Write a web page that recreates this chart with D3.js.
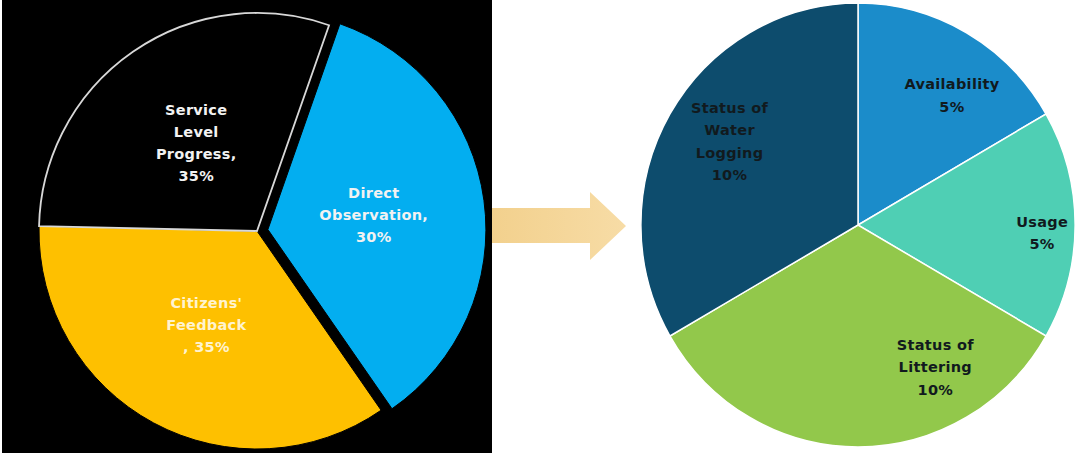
<!DOCTYPE html>
<html>
<head>
<meta charset="utf-8">
<script src="https://cdn.jsdelivr.net/npm/d3@7"></script>
<style>
  body { margin: 0; background: #fff; }
  svg { display: block; }
  text { font-family: "DejaVu Sans", sans-serif; font-weight: bold; letter-spacing: 0.3px; }
</style>
</head>
<body>
<svg id="chart" width="1075" height="456"></svg>
<script>
// left pie: weighting of sources (slice sizes as drawn, label text as printed)
const sourceNames = ["Service Level Progress", "Direct Observation", "Citizens' Feedback"];
const sourceShare = [30, 35, 35];
const sourceLabels = [["Service", "Level", "Progress,", "35%"], ["Direct", "Observation,", "30%"], ["Citizens'", "Feedback", ", 35%"]];

// right pie: service level progress indicators
const indicatorNames = ["Availability", "Usage", "Status of Littering", "Status of Water Logging"];
const indicatorShare = [5, 5, 10, 10];
const indicatorLabels = [["Availability", "5%"], ["Usage", "5%"], ["Status of", "Littering", "10%"], ["Status of", "Water", "Logging", "10%"]];

const svg = d3.select("#chart");
const deg = Math.PI / 180;

// gradient for the arrow
const defs = svg.append("defs");
const grad = defs.append("linearGradient").attr("id", "arrowGrad")
  .attr("x1", "0%").attr("x2", "100%").attr("y1", "0%").attr("y2", "0%");
grad.append("stop").attr("offset", "0%").attr("stop-color", "#f2d08c");
grad.append("stop").attr("offset", "100%").attr("stop-color", "#f7dca6");

// ---- arrow between the pies
const arrow = d3.path();
arrow.moveTo(486, 208);
arrow.lineTo(590, 208);
arrow.lineTo(590, 192);
arrow.lineTo(626, 226);
arrow.lineTo(590, 260);
arrow.lineTo(590, 243);
arrow.lineTo(486, 243);
arrow.closePath();
svg.append("path").attr("d", arrow.toString()).attr("fill", "url(#arrowGrad)");

// ---- left panel
svg.append("rect").attr("x", 2).attr("y", 0).attr("width", 490).attr("height", 453).attr("fill", "#000");

const leftColor = d3.scaleOrdinal().domain(sourceNames).range(["#000000", "#03aef0", "#fec000"]);
const leftR = 218;
const leftPie = d3.pie().sort(null).value(d => d.v)
  .startAngle(-88.7 * deg).endAngle(-88.7 * deg + 2 * Math.PI);
const leftData = leftPie(sourceNames.map((n, i) => ({ name: n, v: sourceShare[i], lines: sourceLabels[i] })));
const leftArc = d3.arc().innerRadius(0).outerRadius(leftR);
const leftLabelArc = d3.arc().innerRadius(leftR * 0.49).outerRadius(leftR * 0.49);

const leftG = svg.append("g").attr("transform", "translate(257,231)");
const explode = { "Direct Observation": 11 };

// draw coloured slices first, black slice with white outline on top
const leftOrder = [leftData[2], leftData[1], leftData[0]];
const leftSlices = leftG.selectAll("g.slice")
  .data(leftOrder)
  .enter()
  .append("g")
  .attr("class", "slice")
  .attr("transform", d => {
    const off = explode[d.data.name] || 0;
    const mid = (d.startAngle + d.endAngle) / 2;
    return "translate(" + (Math.sin(mid) * off) + "," + (-Math.cos(mid) * off) + ")";
  });

leftSlices.append("path")
  .attr("d", leftArc)
  .attr("fill", d => leftColor(d.data.name))
  .attr("stroke", d => d.data.name === "Service Level Progress" ? "#d8d8d8" : "#000")
  .attr("stroke-width", d => d.data.name === "Service Level Progress" ? 1.8 : 1);

leftSlices.append("text")
  .attr("text-anchor", "middle")
  .attr("font-size", 14.5)
  .attr("fill", d => d.data.name === "Citizens' Feedback" ? "#fff3cf" : "#f2f2f2")
  .each(function(d) {
    const c = leftLabelArc.centroid(d);
    const n = d.data.lines.length;
    const t = d3.select(this);
    d.data.lines.forEach((line, i) => {
      t.append("tspan")
        .attr("x", c[0])
        .attr("y", c[1] + (i - (n - 1) / 2) * 22 + 5)
        .text(line);
    });
  });

// ---- right pie
const rightColor = d3.scaleOrdinal().domain(indicatorNames).range(["#1b8cca", "#4fcfb4", "#92c84b", "#0d4c6d"]);
const rightR = 222;
const rightPie = d3.pie().sort(null).value(d => d.v);
const rightData = rightPie(indicatorNames.map((n, i) => ({ name: n, v: indicatorShare[i], lines: indicatorLabels[i] })));
const rightArc = d3.arc().innerRadius(0).outerRadius(rightR);

// label placement: [angle in degrees, fraction of radius]
const rightLabelPlace = { "Availability": [36, 0.72], "Usage": [92.5, 0.83], "Status of Littering": [151.5, 0.73], "Status of Water Logging": [303, 0.69] };

const rightG = svg.append("g").attr("transform", "translate(858,225) scale(0.978,1)");
rightG.selectAll("path")
  .data(rightData)
  .enter()
  .append("path")
  .attr("d", rightArc)
  .attr("fill", d => rightColor(d.data.name))
  .attr("stroke", "#fff")
  .attr("stroke-width", 1.5);

const rightText = svg.append("g").attr("transform", "translate(858,225)");
rightText.selectAll("text")
  .data(rightData)
  .enter()
  .append("text")
  .attr("text-anchor", "middle")
  .attr("font-size", 14.5)
  .attr("fill", "#111a1e")
  .each(function(d) {
    const p = rightLabelPlace[d.data.name];
    const cx = Math.sin(p[0] * deg) * rightR * p[1];
    const cy = -Math.cos(p[0] * deg) * rightR * p[1];
    const n = d.data.lines.length;
    const t = d3.select(this);
    d.data.lines.forEach((line, i) => {
      t.append("tspan")
        .attr("x", cx)
        .attr("y", cy + (i - (n - 1) / 2) * 22.5 + 5)
        .text(line);
    });
  });
</script>
</body>
</html>
